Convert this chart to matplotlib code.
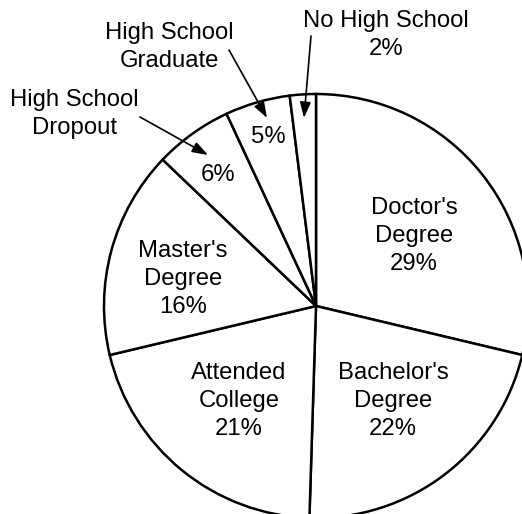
import matplotlib
matplotlib.use("Agg")
import matplotlib.pyplot as plt

# Data (clockwise from 12 o'clock)
categories = ["Doctor's\nDegree", "Bachelor's\nDegree", "Attended\nCollege",
              "Master's\nDegree", "High School\nDropout", "High School\nGraduate",
              "No High School"]
values = [29, 22, 21, 16, 6, 5, 2]

W, H = 522, 514
plt.rcParams['font.family'] = ['Liberation Sans', 'DejaVu Sans']

fig = plt.figure(figsize=(W / 100, H / 100), dpi=100)
ax = fig.add_axes([0, 0, 1, 1])

def py(y):
    return H - y

ax.pie(values, startangle=90, counterclock=False,
       center=(316, py(306)), radius=212,
       wedgeprops=dict(facecolor='white', edgecolor='black', linewidth=1.8))
ax.set_xlim(0, W)
ax.set_ylim(0, H)
ax.set_aspect('equal')
ax.axis('off')

fs = 17.2
kw = dict(ha='center', va='center', fontsize=fs, linespacing=1.38)

# labels inside wedges
inside = {0: (414, 236), 1: (393, 401), 2: (239, 401), 3: (183, 279)}
for i, (x, y) in inside.items():
    ax.text(x, py(y), f"{categories[i]}\n{values[i]}%", **kw)

# small-slice percentages inside
ax.text(218, py(175), f"{values[4]}%", **kw)
ax.text(268, py(137), f"{values[5]}%", **kw)

# outside labels
ax.text(74, py(114), categories[4], **kw)
ax.text(169, py(47), categories[5], **kw)
ax.text(386, py(35), f"{categories[6]}\n{values[6]}%", **kw)

ap = dict(arrowstyle='-|>,head_length=0.95,head_width=0.33', color='black',
          lw=1.2, mutation_scale=10, shrinkA=0, shrinkB=0)
ax.annotate('', xy=(208, py(155)), xytext=(140, py(117)), arrowprops=ap)
ax.annotate('', xy=(267, py(118)), xytext=(229, py(50)), arrowprops=ap)
ax.annotate('', xy=(304, py(118)), xytext=(311, py(36)), arrowprops=ap)

fig.savefig("out.png", dpi=100, facecolor='white')
